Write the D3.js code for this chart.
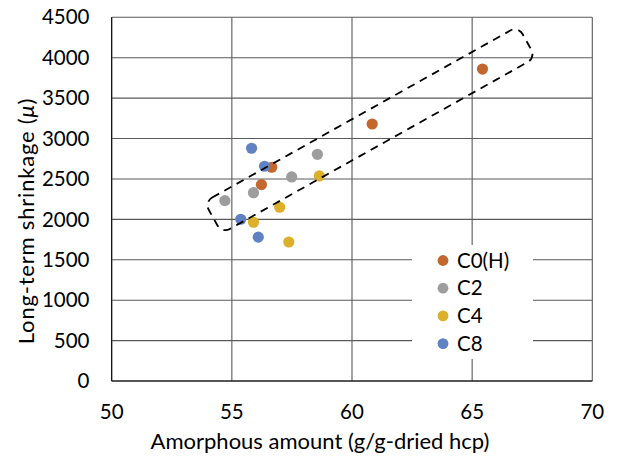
<!DOCTYPE html>
<html><head><meta charset="utf-8">
<script src="https://cdn.jsdelivr.net/npm/d3@7"></script>
<style>body{margin:0;background:#fff}svg text{font-family:Lato,"Open Sans",sans-serif;fill:#000}</style>
</head><body><svg id="c" width="617" height="457"></svg>
<script>
const seriesNames = ["C0(H)", "C2", "C4", "C8"];
const seriesColors = ["#C4672F", "#9D9D9D", "#DDB02C", "#6182C2"];
const c0x = [65.43, 60.84, 56.66, 56.23];
const c0y = [3860, 3180, 2645, 2430];
const c2x = [58.56, 57.49, 55.90, 54.71];
const c2y = [2805, 2525, 2330, 2232];
const c4x = [58.64, 56.99, 55.90, 57.37];
const c4y = [2537, 2150, 1964, 1720];
const c8x = [55.82, 56.36, 55.37, 56.10];
const c8y = [2880, 2657, 2001, 1780];
const xTicks = [50, 55, 60, 65, 70];
const yTicks = [0, 500, 1000, 1500, 2000, 2500, 3000, 3500, 4000, 4500];
// annotation box: end centres in data units
const boxStart = [54.22, 2021];
const boxEnd = [67.28, 4196];

const series = [[c0x, c0y], [c2x, c2y], [c4x, c4y], [c8x, c8y]];
const svg = d3.select("#c");
const L = 111.7, R = 592.3, T = 17.3, B = 381;
const FS = 20.5;
const x = d3.scaleLinear().domain([50, 70]).range([L, R]);
const y = d3.scaleLinear().domain([0, 4500]).range([B, T]);

// grid
svg.append("g").selectAll("line").data(yTicks).join("line")
  .attr("x1", L).attr("x2", R).attr("y1", d => y(d)).attr("y2", d => y(d))
  .attr("stroke", "#5a5a5a").attr("stroke-width", 1.1);
svg.append("g").selectAll("line").data(xTicks).join("line")
  .attr("y1", T).attr("y2", B).attr("x1", d => x(d)).attr("x2", d => x(d))
  .attr("stroke", "#5a5a5a").attr("stroke-width", 1.1);
svg.append("line").attr("x1", L).attr("x2", R).attr("y1", B).attr("y2", B).attr("stroke", "#000").attr("stroke-width", 1);
svg.append("line").attr("x1", L).attr("x2", L).attr("y1", T).attr("y2", B).attr("stroke", "#000").attr("stroke-width", 1);

// tick labels
svg.append("g").selectAll("text").data(yTicks).join("text")
  .attr("x", 89.5).attr("y", d => y(d)).attr("dy", "0.35em").attr("text-anchor", "end")
  .attr("font-size", FS).text(d => d);
svg.append("g").selectAll("text").data(xTicks).join("text")
  .attr("x", d => x(d)).attr("y", 412).attr("dy", "0.35em").attr("text-anchor", "middle")
  .attr("font-size", FS).text(d => d);

// axis titles
svg.append("text").attr("x", 320).attr("y", 441).attr("dy", "0.35em").attr("text-anchor", "middle")
  .attr("font-size", 22).text("Amorphous amount (g/g-dried hcp)");
const yt = svg.append("text").attr("transform", "translate(26,221) rotate(-90)").attr("dy", "0.35em")
  .attr("text-anchor", "middle").attr("font-size", 22).attr("letter-spacing", 0.8);
yt.append("tspan").text("Long-term shrinkage (");
yt.append("tspan").attr("font-style", "italic").text("\u03BC");
yt.append("tspan").text(")");

// points
series.forEach((s, i) => {
  const pts = s[0].map((v, j) => [v, s[1][j]]);
  svg.append("g").selectAll("circle").data(pts).join("circle")
    .attr("cx", d => x(d[0])).attr("cy", d => y(d[1])).attr("r", 5.6)
    .attr("fill", seriesColors[i]);
});

// dashed annotation box
const p0 = [x(boxStart[0]), y(boxStart[1])], p1 = [x(boxEnd[0]), y(boxEnd[1])];
const len = Math.hypot(p1[0] - p0[0], p1[1] - p0[1]);
const ang = Math.atan2(p1[1] - p0[1], p1[0] - p0[0]) * 180 / Math.PI;
const cx = (p0[0] + p1[0]) / 2, cy = (p0[1] + p1[1]) / 2, hw = 18;
svg.append("rect").attr("x", -len / 2).attr("y", -hw).attr("width", len).attr("height", 2 * hw)
  .attr("rx", 9).attr("ry", 9)
  .attr("transform", `translate(${cx},${cy}) rotate(${ang})`)
  .attr("fill", "none").attr("stroke", "#000").attr("stroke-width", 1.8)
  .attr("stroke-dasharray", "8,6");

// legend
const lg = svg.append("g");
lg.append("rect").attr("x", 412).attr("y", 245).attr("width", 121).attr("height", 114).attr("fill", "#fff");
seriesNames.forEach((n, i) => {
  const yy = 260.5 + i * 27.7;
  lg.append("circle").attr("cx", 443).attr("cy", yy).attr("r", 5.4).attr("fill", seriesColors[i]);
  lg.append("text").attr("x", 457).attr("y", yy).attr("dy", "0.35em").attr("font-size", FS).text(n);
});
</script></body></html>
